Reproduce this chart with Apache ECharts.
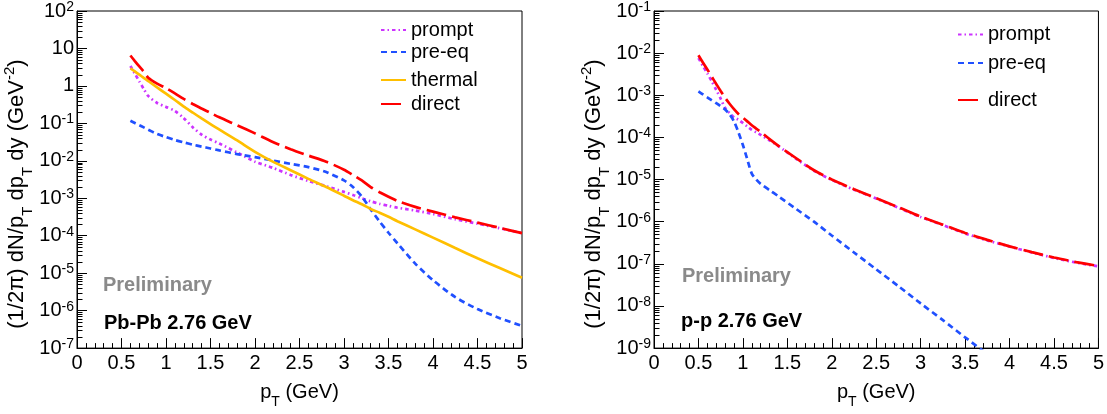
<!DOCTYPE html>
<html>
<head>
<meta charset="utf-8">
<script src="https://cdn.jsdelivr.net/npm/echarts@6/dist/echarts.min.js"></script>
<style>html,body{margin:0;padding:0;background:#fff}#c{width:1107px;height:414px}</style>
</head>
<body>
<div id="c"></div>
<script>
// ---------- data ----------
const seriesNames = ['prompt', 'pre-eq', 'thermal', 'direct'];

// Pb-Pb panel
const pbX = [0.6,0.65,0.7,0.75,0.8,0.9,1.0,1.1,1.2,1.3,1.4,1.5,1.6,1.8,2.0,2.2,2.4,2.6,2.8,3.0,3.1,3.2,3.3,3.4,3.5,3.6,3.8,4.0,4.25,4.5,4.75,5.0];
const pbPrompt = [3.4,2.14,1.32,0.83,0.54,0.35,0.275,0.214,0.138,0.079,0.050,0.037,0.029,0.0166,0.0095,0.0065,0.0042,0.0029,0.0021,0.00148,0.00123,0.0010,8.3e-4,7.1e-4,6.3e-4,5.6e-4,4.7e-4,3.8e-4,2.75e-4,2.1e-4,1.58e-4,1.17e-4];
const pbPreEq = [0.117,0.102,0.089,0.078,0.068,0.052,0.043,0.036,0.031,0.027,0.024,0.0214,0.019,0.0151,0.0126,0.0102,0.0083,0.0068,0.0050,0.0030,0.0020,0.00112,5.0e-4,2.4e-4,1.2e-4,6.3e-5,1.8e-5,6.5e-6,2.3e-6,1.1e-6,6.3e-7,3.9e-7];
const pbThermal = [2.95,2.43,2.0,1.64,1.35,0.91,0.62,0.42,0.28,0.195,0.135,0.095,0.068,0.035,0.0174,0.0095,0.0056,0.0033,0.0020,0.00117,8.9e-4,6.9e-4,5.2e-4,4.1e-4,3.2e-4,2.45e-4,1.48e-4,8.9e-5,4.7e-5,2.5e-5,1.38e-5,7.6e-6];
const pbDirect = [6.5,4.6,3.3,2.4,1.66,1.15,0.87,0.63,0.45,0.33,0.25,0.19,0.145,0.089,0.054,0.032,0.0204,0.0138,0.0095,0.0058,0.0042,0.0030,0.0020,0.00145,0.0011,8.5e-4,5.9e-4,4.4e-4,3.1e-4,2.24e-4,1.62e-4,1.17e-4];

// p-p panel
const ppX = [0.5,0.55,0.6,0.65,0.7,0.75,0.8,0.85,0.9,0.95,1.0,1.05,1.1,1.15,1.2,1.3,1.4,1.6,1.8,2.0,2.25,2.5,2.75,3.0,3.25,3.5,3.75,4.0,4.25,4.5,4.75,5.0];
const ppPrompt = [7.6e-3,5.0e-3,3.3e-3,2.14e-3,1.35e-3,8.3e-4,5.0e-4,3.8e-4,3.0e-4,2.63e-4,2.19e-4,1.82e-4,1.51e-4,1.32e-4,1.15e-4,8.5e-5,6.2e-5,3.1e-5,1.62e-5,9.8e-6,5.75e-6,3.55e-6,2.14e-6,1.29e-6,8.3e-7,5.25e-7,3.6e-7,2.57e-7,1.86e-7,1.38e-7,1.07e-7,8.7e-8];
const ppPreEq = [1.23e-3,1.05e-3,8.9e-4,7.6e-4,6.5e-4,5.5e-4,4.6e-4,3.55e-4,2.4e-4,1.32e-4,6.6e-5,3.0e-5,1.38e-5,1.0e-5,7.9e-6,5.6e-6,4.0e-6,2.0e-6,1.0e-6,4.7e-7,1.86e-7,7.4e-8,2.95e-8,1.15e-8,4.6e-9,1.8e-9,7.2e-10,null,null,null,null,null];
const ppDirect = [8.9e-3,6.0e-3,4.1e-3,2.75e-3,1.86e-3,1.26e-3,8.7e-4,6.3e-4,4.7e-4,3.6e-4,2.95e-4,2.4e-4,1.95e-4,1.62e-4,1.35e-4,9.1e-5,6.3e-5,3.2e-5,1.66e-5,1.0e-5,5.9e-6,3.6e-6,2.2e-6,1.32e-6,8.5e-7,5.4e-7,3.7e-7,2.6e-7,1.9e-7,1.41e-7,1.1e-7,8.9e-8];

// axes / tick labels
const xMin = 0, xMax = 5, xStep = 0.5;
const pbYExp = [-7, 2];     // decades shown on Pb-Pb y axis
const ppYExp = [-9, -1];    // decades shown on p-p y axis
const pbYTickLabels = {'2':'10{sup|2}','1':'10','0':'1','-1':'10{sup|-1}','-2':'10{sup|-2}','-3':'10{sup|-3}','-4':'10{sup|-4}','-5':'10{sup|-5}','-6':'10{sup|-6}','-7':'10{sup|-7}'};
const ppYTickLabels = {'-1':'10{sup|-1}','-2':'10{sup|-2}','-3':'10{sup|-3}','-4':'10{sup|-4}','-5':'10{sup|-5}','-6':'10{sup|-6}','-7':'10{sup|-7}','-8':'10{sup|-8}','-9':'10{sup|-9}'};
const xTitle = '{m|p}{s|T}{m| (GeV)}';
const yTitle = '{m|(1/2π) dN/p}{s|T}{m| dp}{s|T}{m| dy (GeV}{u|-2}{m|)}';
const pbTexts = ['Preliminary', 'Pb-Pb 2.76 GeV'];
const ppTexts = ['Preliminary', 'p-p 2.76 GeV'];

// ---------- styles ----------
const FF = "'Liberation Sans', Arial, Helvetica, sans-serif";
const styles = {
  'prompt':  {color:'#cc33ff', type:[3.5,3,1.5,3]},
  'pre-eq':  {color:'#2050ff', type:[6,4]},
  'thermal': {color:'#ffbf00', type:'solid'},
  'direct':  {color:'#ff0000', type:[20,6]}
};

function minorValues(exps) {
  const out = [];
  for (let e = exps[0]; e < exps[1]; e++) for (let k = 2; k <= 9; k++) out.push(k * Math.pow(10, e));
  return out;
}

const xNameRich = {
  m: {fontSize:20, fontFamily:FF, color:'#000', lineHeight:20, padding:[4,0,7,0]},
  s: {fontSize:14, fontFamily:FF, color:'#000', lineHeight:14, padding:[17,0,0,0]}
};
const yNameRich = {
  m: {fontSize:22, fontFamily:FF, color:'#000', lineHeight:22, padding:[4,0,7,0]},
  s: {fontSize:15, fontFamily:FF, color:'#000', lineHeight:15, padding:[18,0,0,0]},
  u: {fontSize:15, fontFamily:FF, color:'#000', lineHeight:15, padding:[0,0,18,0]}
};
const labelRich = { sup: {fontSize:14, fontFamily:FF, color:'#000', lineHeight:14, padding:[0,0,8,0]} };

function xAxisCfg(gi) {
  return {
    type:'value', gridIndex:gi, min:xMin, max:xMax, interval:xStep,
    axisLine:{show:true, onZero:false, lineStyle:{color:'#000', width:1}},
    axisTick:{show:true, inside:true, length:10, lineStyle:{color:'#000', width:1}},
    minorTick:{show:true, splitNumber:5, length:5, lineStyle:{color:'#000', width:1}},
    splitLine:{show:false}, minorSplitLine:{show:false},
    axisLabel:{fontSize:20, fontFamily:FF, color:'#000', margin:5},
    name:xTitle, nameLocation:'middle', nameGap:18,
    nameTextStyle:{rich:xNameRich}
  };
}
function yAxisCfg(gi, exps, labels) {
  return {
    type:'log', logBase:10, gridIndex:gi, min:Math.pow(10, exps[0]), max:Math.pow(10, exps[1]),
    splitNumber: exps[1] - exps[0],
    axisLine:{show:true, onZero:false, lineStyle:{color:'#000', width:1}},
    axisTick:{show:true, inside:true, length:10, lineStyle:{color:'#000', width:1}},
    splitLine:{show:false},
    axisLabel:{fontSize:20, fontFamily:FF, color:'#000', margin:3, rich:labelRich,
      formatter: v => { const e = Math.round(Math.log10(v)); return labels[String(e)] || ''; }},
    name:yTitle, nameLocation:'middle', nameGap:38,
    nameTextStyle:{rich:yNameRich, padding:[0,29,0,0]}
  };
}

function lineSeries(name, gi, xs, ys) {
  const st = styles[name];
  return {
    name, type:'line', xAxisIndex:gi, yAxisIndex:gi,
    data: xs.map((x, i) => [x, ys[i]]),
    showSymbol:false, symbol:'none', smooth:0.25, connectNulls:false,
    color: st.color,
    lineStyle:{color:st.color, width:2.7, type:st.type},
    clip:true, z:3
  };
}
function minorTickSeries(gi, exps) {
  return {
    type:'custom', xAxisIndex:gi, yAxisIndex:gi, silent:true, z:4, clip:false,
    data: minorValues(exps).map(v => [xMin, v]),
    renderItem: (params, api) => {
      const p = api.coord([api.value(0), api.value(1)]);
      const y = Math.round(p[1]) + 0.5;
      return {type:'line', shape:{x1:p[0], y1:y, x2:p[0] + 5.5, y2:y}, style:{stroke:'#000', lineWidth:1}};
    }
  };
}

function legendCfg(name, left, top) {
  return {
    data:[name], left, top, padding:0, itemWidth:25, itemHeight:14, itemGap:0,
    selectedMode:false, itemStyle:{opacity:0},
    textStyle:{fontSize:20, fontFamily:FF, color:'#000'}
  };
}

const option = {
  animation:false,
  backgroundColor:'#fff',
  grid:[
    {left:77, top:11, width:445, height:345, show:true, borderColor:'#000', borderWidth:1, backgroundColor:'transparent'},
    {left:654, top:11, width:445, height:345, show:true, borderColor:'#000', borderWidth:1, backgroundColor:'transparent'}
  ],
  xAxis:[xAxisCfg(0), xAxisCfg(1)],
  yAxis:[yAxisCfg(0, pbYExp, pbYTickLabels), yAxisCfg(1, ppYExp, ppYTickLabels)],
  legend:[
    legendCfg('prompt', 380, 20), legendCfg('pre-eq', 380, 42), legendCfg('thermal', 380, 70), legendCfg('direct', 380, 94),
    legendCfg('prompt', 957, 24.5), legendCfg('pre-eq', 957, 53), legendCfg('direct', 957, 90)
  ],
  series:[
    lineSeries('prompt', 0, pbX, pbPrompt),
    lineSeries('pre-eq', 0, pbX, pbPreEq),
    lineSeries('thermal', 0, pbX, pbThermal),
    lineSeries('direct', 0, pbX, pbDirect),
    lineSeries('prompt', 1, ppX, ppPrompt),
    lineSeries('pre-eq', 1, ppX, ppPreEq),
    lineSeries('direct', 1, ppX, ppDirect),
    minorTickSeries(0, pbYExp),
    minorTickSeries(1, ppYExp)
  ],
  graphic:[
    {type:'text', left:103, top:275, style:{text:pbTexts[0], fontSize:20, fontWeight:'bold', fontFamily:FF, fill:'#8a8a8a'}},
    {type:'text', left:104, top:313, style:{text:pbTexts[1], fontSize:20, fontWeight:'bold', fontFamily:FF, fill:'#000'}},
    {type:'text', left:682, top:266, style:{text:ppTexts[0], fontSize:20, fontWeight:'bold', fontFamily:FF, fill:'#8a8a8a'}},
    {type:'text', left:681, top:311, style:{text:ppTexts[1], fontSize:20, fontWeight:'bold', fontFamily:FF, fill:'#000'}}
  ]
};

const chart = echarts.init(document.getElementById('c'), null, {renderer:'canvas'});
chart.setOption(option);
</script>
</body>
</html>
